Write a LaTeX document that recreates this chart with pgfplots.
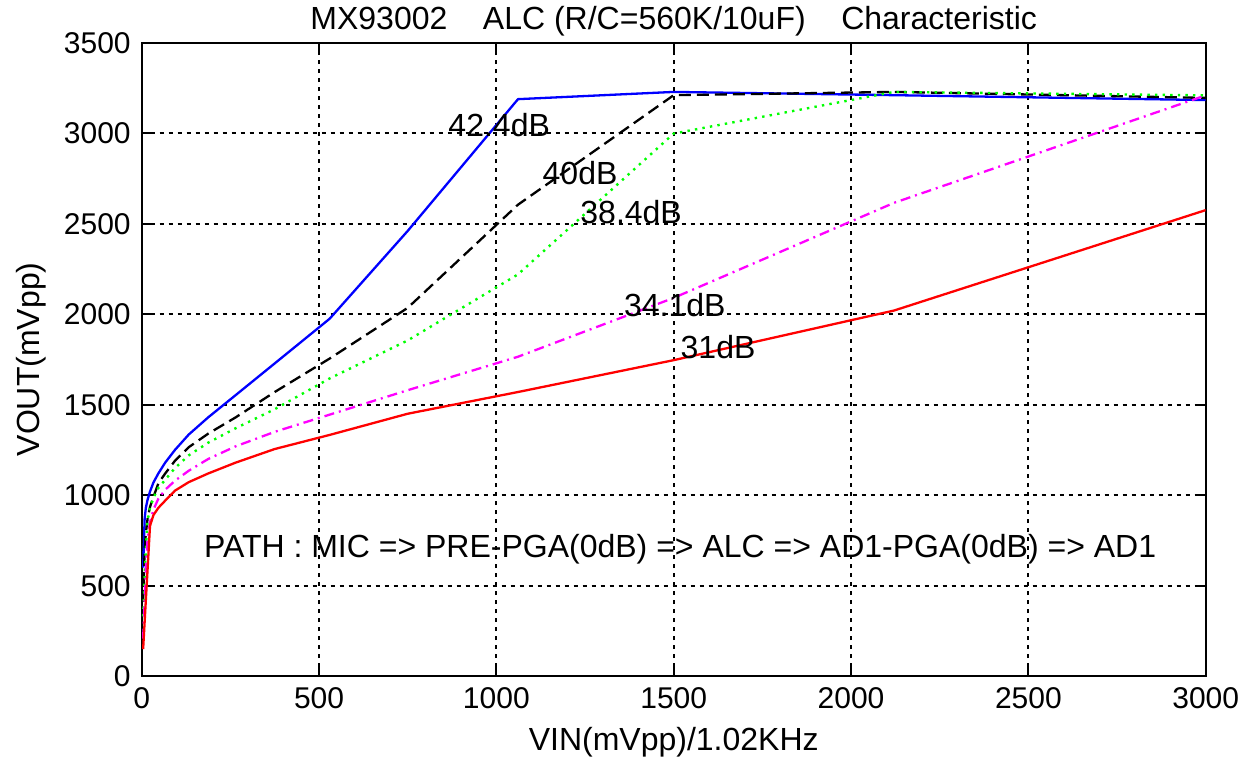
\documentclass[border=0pt]{standalone}
\usepackage{pgfplots}
\pgfplotsset{compat=1.18}
\usepackage{fontspec}
\setmainfont{Liberation Sans}
\definecolor{mag}{RGB}{255,0,255}
\definecolor{grn}{RGB}{0,255,0}
\definecolor{blu}{RGB}{0,0,255}
\definecolor{rd}{RGB}{255,0,0}
\begin{document}
\fontsize{16}{19}\selectfont
\begin{tikzpicture}
\path[use as bounding box] (-70.85pt,-40.9pt) rectangle (557.65pt,338.1pt);
\begin{axis}[
  at={(0,0)}, anchor=south west,
  scale only axis, width=532pt, height=316.75pt,
  xmin=0, xmax=3000, ymin=0, ymax=3500,
  xtick={0,500,...,3000}, ytick={0,500,...,3500},
  xtick pos=both, ytick pos=both,
  tick align=inside, major tick length=5pt,
  grid=major,
  major grid style={black, line width=1pt, dash pattern=on 2pt off 2.5pt},
  axis line style={black, line width=1.1pt},
  tick style={black, line width=0.9pt},
  tick label style={font=\fontsize{15}{18}\selectfont},
  /pgf/number format/assume math mode=true,
  /pgf/number format/1000 sep={},
  title={MX93002\ \ \ \ ALC (R/C=560K/10uF)\ \ \ \ Characteristic},
  title style={at={(axis description cs:0.5,1)}, anchor=base, yshift=0.35pt, font=\fontsize{16}{19}\selectfont},
  xlabel={VIN(mVpp)/1.02KHz},
  xlabel style={at={(axis description cs:0.5,-0.1168)}, anchor=base, font=\fontsize{16}{19}\selectfont},
  ylabel={VOUT(mVpp)},
  ylabel style={at={(axis description cs:-0.0959,0.5)}, anchor=base, rotate=0, font=\fontsize{16}{19}\selectfont},
  clip=true,
]
\addplot[blu, line width=1.15pt] coordinates {
(4.1,600)(8.3,870)(11.7,930)(16.6,975)(23.4,1020)(33.1,1070)(46.9,1120)(66.3,1180)(93.75,1250)(132.6,1335)(187.5,1430)(265,1553)(375,1728)(530,1975)(750,2460)(1061,3188)(1500,3228)(2121,3210)(3000,3183)};
\addplot[black, line width=1.15pt, dash pattern=on 6pt off 3pt] coordinates {
(4.1,410)(8.3,700)(11.7,790)(16.6,870)(23.4,935)(33.1,990)(46.9,1065)(66.3,1120)(93.75,1190)(132.6,1265)(187.5,1340)(265,1430)(375,1570)(530,1755)(750,2035)(1061,2605)(1500,3210)(2121,3228)(3000,3195)};
\addplot[grn, line width=1.2pt, dash pattern=on 1.2pt off 2.6pt] coordinates {
(4.1,330)(8.3,560)(11.7,700)(16.6,860)(23.4,930)(33.1,985)(46.9,1040)(66.3,1085)(93.75,1150)(132.6,1220)(187.5,1290)(265,1370)(375,1475)(530,1645)(750,1855)(1061,2220)(1500,2998)(2121,3228)(3000,3209)};
\addplot[mag, line width=1.15pt, dash pattern=on 5pt off 2.5pt on 1pt off 2.5pt] coordinates {
(4.1,208)(8.3,420)(11.7,593)(16.6,760)(23.4,850)(33.1,920)(46.9,980)(66.3,1030)(93.75,1080)(132.6,1135)(187.5,1200)(265,1270)(375,1350)(530,1445)(750,1580)(1061,1765)(1500,2090)(2121,2615)(3000,3209)};
\addplot[rd, line width=1.15pt] coordinates {
(4.1,150)(8.3,300)(11.7,420)(16.6,590)(23.4,830)(33.1,890)(46.9,930)(66.3,970)(93.75,1025)(132.6,1072)(187.5,1120)(265,1180)(375,1255)(530,1333)(750,1450)(1061,1570)(1500,1746)(2121,2020)(3000,2575)};
\node[anchor=base, inner sep=0pt] at (axis cs:1008,2984) {42.4dB};
\node[anchor=base, inner sep=0pt] at (axis cs:1236,2717) {40dB};
\node[anchor=base, inner sep=0pt] at (axis cs:1380,2502) {38.4dB};
\node[anchor=base, inner sep=0pt] at (axis cs:1503,1989) {34.1dB};
\node[anchor=base, inner sep=0pt] at (axis cs:1625,1757) {31dB};
\node[anchor=base, inner sep=0pt] at (axis cs:1518,658) {PATH : MIC => PRE-PGA(0dB) => ALC => AD1-PGA(0dB) => AD1};
\end{axis}
\end{tikzpicture}
\end{document}
